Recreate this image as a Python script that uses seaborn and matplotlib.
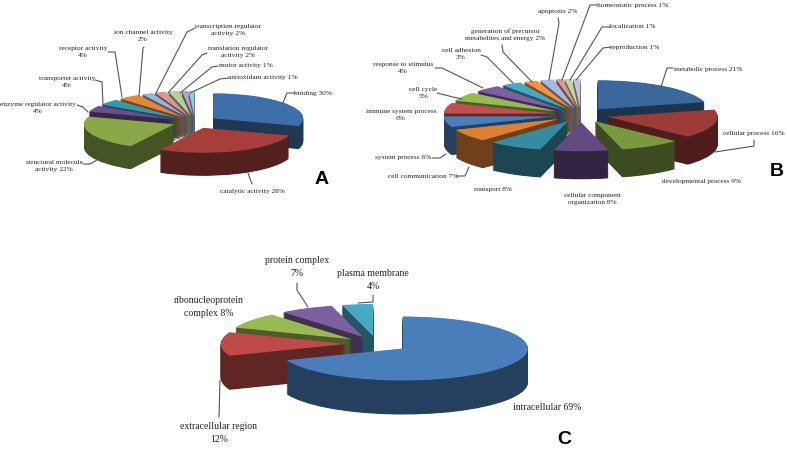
import numpy as np
import matplotlib
matplotlib.use("Agg")
import matplotlib.pyplot as plt
import seaborn as sns

# Panel A: molecular function
labels_a = ["binding 30%", "catalytic activity 28%", "structural molecule\nactivity 22%",
            "enzyme regulator activity\n4%", "transporter activity\n4%", "receptor activity\n4%",
            "ion channel activity\n2%", "transcription regulator\nactivity 2%",
            "translation regulator\nactivity 2%", "motor activity 1%", "antioxidant activity 1%"]
values_a = [30, 28, 22, 4, 4, 4, 2, 2, 2, 1, 1]

# Panel B: biological process
labels_b = ["metabolic process 21%", "cellular process 16%", "developmental process 9%",
            "cellular component\norganization 8%", "transport 8%", "cell communication 7%",
            "system process 6%", "immune system process\n6%", "cell cycle\n5%",
            "response to stimulus\n4%", "cell adhesion\n3%",
            "generation of precursor\nmetabolites and energy 2%", "apoptosis 2%",
            "homeostatic process 1%", "localization 1%", "reproduction 1%"]
values_b = [21, 16, 9, 8, 8, 7, 6, 6, 5, 4, 3, 2, 2, 1, 1, 1]

# Panel C: cellular component
labels_c = ["intracellular 69%", "extracellular region\n12%", "ribonucleoprotein\ncomplex 8%",
            "protein complex\n7%", "plasma membrane\n4%"]
values_c = [69, 12, 8, 7, 4]

colors_a = ["#3f6fa8", "#a63f3c", "#8aa84a", "#6b4f8c", "#3c97ad", "#e2873a",
            "#9db4d8", "#d99694", "#b9cd96", "#b3a2c7", "#93cddd"]
colors_b = ["#3a679c", "#9c3b38", "#7a983f", "#634a82", "#378ba1", "#dc8035",
            "#4a7ebb", "#c0504d", "#98b954", "#7d60a0", "#46aac5", "#f69240",
            "#a7bbdc", "#d99694", "#c3d69b", "#ccc1da"]
colors_c = ["#4a7ebb", "#be4b48", "#98b954", "#7d60a0", "#46aac5"]

# label centres in pixels of the 787x449 picture
label_pos_a = [(313, 93), (252, 191), (54, 166), (38, 108), (67, 82), (83, 52),
               (143, 36), (228, 30), (238, 52), (246, 66), (263, 78)]
label_pos_b = [(708, 69), (754, 133), (702, 182), (592, 199), (493, 190), (423, 176),
               (403, 158), (401, 115), (423, 93), (403, 68), (461, 54),
               (505, 35), (558, 12), (633, 5), (632, 26), (635, 47)]
label_pos_c = [(547, 407), (219, 433), (209, 307), (297, 267), (373, 280)]

leaders_a = [[(295, 93), (287, 93), (283, 103)], [(252, 184), (248, 173)],
             [(83, 164), (90, 164), (97, 160)], [(77, 105), (83, 107), (88, 112)],
             [(95, 80), (102, 82), (103, 105)], [(108, 52), (115, 52), (122, 97)],
             [(144, 47), (143, 48), (139, 96)], [(195, 28), (187, 32), (155, 95)],
             [(207, 53), (202, 55), (168, 93)], [(218, 66), (212, 67), (180, 93)],
             [(228, 78), (220, 79), (190, 93)]]
leaders_b = [[(673, 68), (667, 68), (661, 87)], [(754, 140), (754, 146), (715, 152)],
             [], [], [], [(457, 176), (465, 176), (469, 167)],
             [(432, 158), (440, 158), (446, 154)], [], [(437, 93), (453, 97), (462, 99)],
             [(435, 68), (442, 68), (483, 88)], [(481, 55), (487, 57), (513, 83)],
             [(502, 45), (503, 52), (532, 82)], [(558, 18), (559, 23), (549, 80)],
             [(597, 5), (590, 5), (562, 80)], [(610, 27), (602, 27), (570, 80)],
             [(611, 47), (603, 48), (576, 80)]]
leaders_c = [[], [(219, 417), (220, 380)], [], [(297, 283), (297, 290), (308, 307)],
             [(373, 295), (373, 302), (358, 303)]]

sns.set_theme(style="white")
plt.rcParams["font.family"] = ["Liberation Serif", "DejaVu Serif"]

W, H = 787, 449
fig = plt.figure(figsize=(W / 100, H / 100), dpi=100)


def draw_pie(values, colors, cx, cy, rx, ry, depth, explode):
    ax = fig.add_axes([0, 0, 1, 1], facecolor="none")
    tops = np.array(sns.color_palette(colors))
    sides = tops * 0.5
    expl = [explode] * len(values)
    for d in np.arange(depth, 0, -0.5):
        wedges, _ = ax.pie(values, colors=sides, explode=expl, center=(0, -d / ry), radius=1,
                           startangle=90, counterclock=False, wedgeprops={"linewidth": 0})
        # back slices first so the front ones cover them
        for w in wedges:
            mid = np.deg2rad((w.theta1 + w.theta2) / 2)
            w.set_zorder(5 - np.sin(mid))
    wedges, _ = ax.pie(values, colors=tops, explode=expl, center=(0, 0), radius=1,
                       startangle=90, counterclock=False, wedgeprops={"linewidth": 0})
    for w in wedges:
        w.set_zorder(10)
    ax.set_aspect("auto")
    ax.set_xlim(-cx / rx, (W - cx) / rx)
    ax.set_ylim((cy - H) / ry, cy / ry)
    ax.axis("off")


draw_pie(values_a, colors_a, 195, 122, 90, 25, 23, 0.25)
draw_pie(values_b, colors_b, 581, 115, 110, 29, 28, 0.25)
draw_pie(values_c, colors_c, 377, 344, 125, 32, 34, 0.25)

# labels and leader lines in picture pixels
top = fig.add_axes([0, 0, 1, 1], facecolor="none", zorder=20)
top.set_xlim(0, W)
top.set_ylim(H, 0)
top.axis("off")

for labels, pos, leaders, size in [(labels_a, label_pos_a, leaders_a, 5.3),
                                   (labels_b, label_pos_b, leaders_b, 5.3),
                                   (labels_c, label_pos_c, leaders_c, 7.0)]:
    for text, (x, y), line in zip(labels, pos, leaders):
        top.text(x, y, text, ha="center", va="center", fontsize=size, color="#222222", linespacing=1.45)
        if line:
            xs, ys = zip(*line)
            top.plot(xs, ys, color="#555555", lw=0.8)

for letter, x, y in [("A", 322, 179), ("B", 777, 172), ("C", 564, 440)]:
    top.text(x, y, letter, ha="center", va="center", fontsize=14, color="black",
             family="Liberation Sans", fontweight="bold")

fig.savefig("out.png", dpi=100, facecolor="white")
plt.close(fig)
